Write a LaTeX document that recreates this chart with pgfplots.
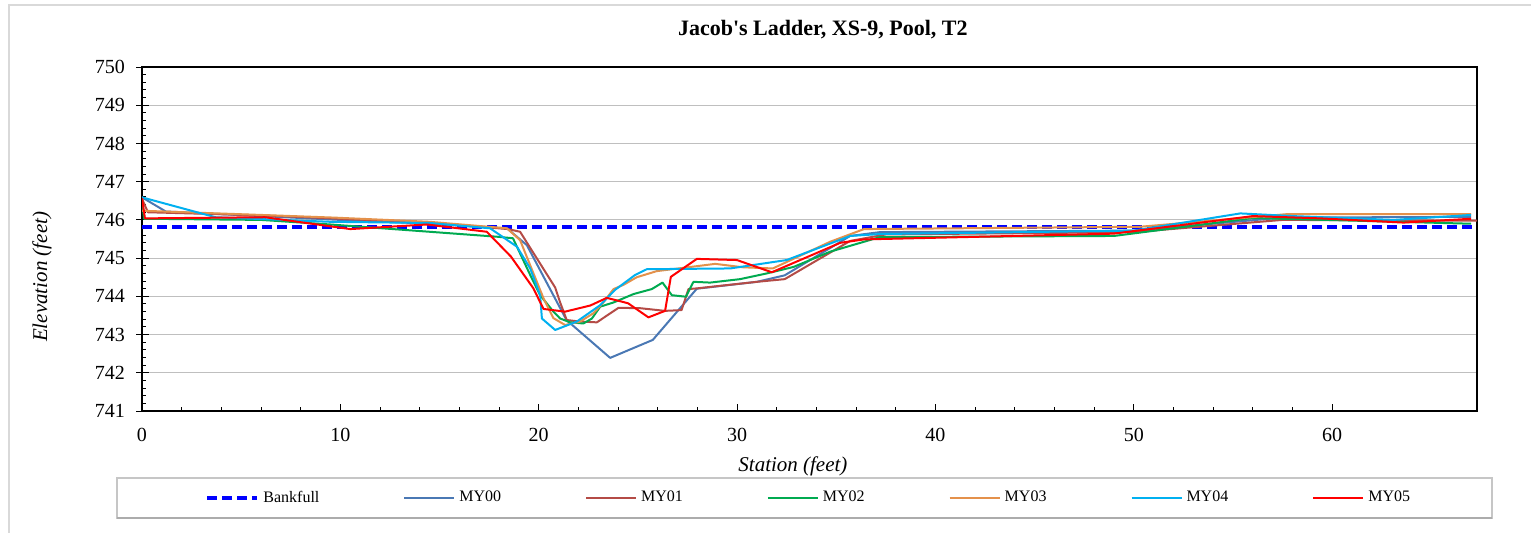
\documentclass[border=0pt]{standalone}
\usepackage{pgfplots}
\pgfplotsset{compat=1.18}
\usepackage{fontspec}
\setmainfont{Liberation Serif}
\definecolor{bfblue}{RGB}{0,0,255}
\definecolor{cMY00}{RGB}{74,120,180}
\definecolor{cMY01}{RGB}{180,75,70}
\definecolor{cMY02}{RGB}{0,170,80}
\definecolor{cMY03}{RGB}{228,145,75}
\definecolor{cMY04}{RGB}{0,176,240}
\definecolor{cMY05}{RGB}{255,0,0}
\definecolor{gridc}{RGB}{191,191,191}
\definecolor{framec}{RGB}{217,217,217}
\begin{document}
\begin{tikzpicture}
\useasboundingbox (0,0) rectangle (765.5pt,266pt);
\draw[framec, line width=0.6pt] (4.5pt,-5pt) -- (4.5pt,263.5pt) -- (770pt,263.5pt);
\draw[gray!45, line width=0.6pt, fill=white] (58.5pt,7pt) rectangle (746pt,27pt);
\draw[gray!65, line width=1pt] (58.5pt,7pt) -- (746pt,7pt);
\begin{axis}[
 at={(71pt,60.5pt)}, anchor=south west,
 width=667.5pt, height=172pt, scale only axis,
 xmin=0, xmax=67.3, ymin=741, ymax=750,
 xtick={0,10,...,60}, ytick={741,742,...,750},
 minor x tick num=4, minor y tick num=4,
 tick align=inside, xtick pos=bottom, ytick pos=left,
 major tick length=3.5pt, minor tick length=2pt,
 extra y ticks={741,742,...,750}, extra y tick labels={},
 extra y tick style={tick align=outside, grid=none, major tick length=3pt},
 ymajorgrids, grid style={gridc, line width=0.5pt},
 axis line style={line width=0.9pt},
 tick style={black, line width=0.5pt},
 /pgf/number format/assume math mode=true,
 /pgf/number format/1000 sep={},
 ticklabel style={font=\fontsize{10}{12}\selectfont},
 yticklabel style={xshift=-5pt},
 xticklabel style={yshift=-5pt},
 title={Jacob\textquotesingle s Ladder, XS-9, Pool, T2},
 title style={font=\fontsize{11}{13}\selectfont\bfseries, at={(axis description cs:0.51,1.0727)}, anchor=center},
 xlabel={Station (feet)}, ylabel={Elevation (feet)},
 xlabel style={font=\fontsize{10.5}{12}\selectfont\itshape, at={(axis description cs:0.4876,-0.160)}, anchor=center},
 ylabel style={font=\fontsize{10.5}{12}\selectfont\itshape, at={(axis description cs:-0.0749,0.39)}, anchor=center},
 legend columns=7, legend cell align=left,
 legend style={at={(axis description cs:0.0472,-0.2529)}, anchor=west, draw=none, fill=none, inner sep=0pt,
   font=\fontsize{8}{10}\selectfont, /tikz/every even column/.append style={column sep=40pt}},
 legend image code/.code={\draw[#1] (0pt,0pt) -- (25pt,0pt);},
 every axis plot/.append style={line width=1pt, line join=round},
]
\addplot[bfblue, line width=2pt, dash pattern=on 5pt off 2.5pt] coordinates {(0,745.82) (67.3,745.82)};
\addlegendentry{Bankfull}
\addplot[cMY00] coordinates {
(0,746.59) (1.2,746.22) (6,746.1) (10,746.0) (14.5,745.9) (18.4,745.78) (19.4,745.34)
(21.4,743.38) (23.6,742.39) (25.75,742.86) (27.97,744.2) (31.0,744.38) (32.4,744.55)
(35.7,745.58) (37.2,745.68) (50,745.72) (57.5,746.06) (67.0,746.08)};
\addlegendentry{MY00}
\addplot[cMY01] coordinates {
(0,746.55) (0.3,746.2) (6,746.12) (10,746.03) (14.5,745.93) (18.45,745.76) (19.06,745.69)
(20.83,744.23) (21.08,743.84) (21.41,743.38) (22.09,743.34) (22.93,743.32) (24.02,743.70)
(25.11,743.69) (26.37,743.62) (27.2,743.64) (27.55,744.19) (28.0,744.21) (31.0,744.38)
(32.4,744.45) (35.7,745.45) (37.5,745.62) (50,745.68) (57.5,746.0) (67.3,745.98)};
\addlegendentry{MY01}
\addplot[cMY02] coordinates {
(0,746.55) (0.1,746.03) (6,746.0) (9.5,745.88) (17.9,745.56) (18.7,745.52) (19.57,744.56)
(20.07,744.03) (20.74,743.6) (21.08,743.42) (21.58,743.32) (22.25,743.29) (22.68,743.42)
(23.1,743.73) (23.77,743.84) (24.78,744.06) (25.7,744.19) (26.24,744.36) (26.71,744.03)
(27.42,743.99) (27.8,744.38) (28.64,744.36) (30.15,744.45) (31.5,744.6) (32.85,744.77)
(34.7,745.17) (37.2,745.55) (49,745.58) (56.0,746.05) (67.0,745.9)};
\addlegendentry{MY02}
\addplot[cMY03] coordinates {
(0,746.24) (6,746.13) (9.7,746.06) (14.5,745.95) (18.4,745.78) (19.06,745.47) (20.24,743.95)
(20.74,743.43) (21.33,743.25) (22.09,743.34) (22.76,743.56) (23.26,743.84) (23.77,744.19)
(24.27,744.30) (24.94,744.5) (25.95,744.66) (27.2,744.74) (28.9,744.85) (30.3,744.76)
(31.8,744.73) (34.7,745.43) (36.4,745.76) (50.3,745.82) (57.7,746.15) (67.0,746.15)};
\addlegendentry{MY03}
\addplot[cMY04] coordinates {
(0,746.59) (3.7,746.07) (9.5,745.95) (14.5,745.92) (17.55,745.78) (18.9,745.3) (19.57,744.73)
(20.07,744.03) (20.16,743.42) (20.83,743.12) (21.92,743.34) (23.1,743.77) (23.85,744.17)
(24.86,744.56) (25.45,744.71) (29.65,744.73) (32.5,744.95) (35.7,745.58) (37.2,745.63)
(50,745.72) (55.37,746.17) (58.0,746.1) (63.1,746.0) (67.0,746.13)};
\addlegendentry{MY04}
\addplot[cMY05] coordinates {
(0,746.57) (0.15,746.04) (6.2,746.07) (10.5,745.76) (14.36,745.88) (17.38,745.69) (18.6,745.04)
(19.73,744.21) (20.24,743.67) (21.33,743.6) (22.6,743.76) (23.43,743.96) (24.5,743.82)
(25.53,743.45) (26.37,743.62) (26.66,744.51) (27.97,744.98) (29.99,744.95) (31.75,744.63)
(35.2,745.4) (36.4,745.49) (48.97,745.64) (56.0,746.1) (59.4,746.04) (63.6,745.93) (67.0,746.03)};
\addlegendentry{MY05}
\end{axis}
\end{tikzpicture}
\end{document}
